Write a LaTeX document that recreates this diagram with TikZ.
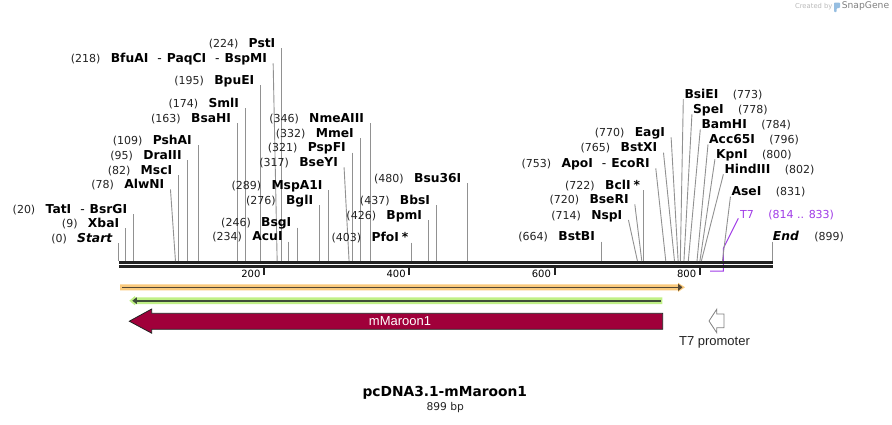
\documentclass[tikz,border=0pt]{standalone}
\usepackage{fontspec}
\setmainfont{DejaVu Sans}
\newfontfamily\featfont{Liberation Sans}
\usepackage{xcolor}
\usetikzlibrary{arrows.meta,positioning}

\definecolor{cutgray}{RGB}{145,145,145}
\definecolor{spine}{RGB}{34,34,34}
\definecolor{bandorange}{RGB}{250,202,125}
\definecolor{bandgreen}{RGB}{192,240,135}
\definecolor{orangeline}{RGB}{82,70,52}
\definecolor{greenline}{RGB}{62,78,56}
\definecolor{mmaroon}{RGB}{160,0,58}
\definecolor{tsevenpurple}{RGB}{160,60,230}
\definecolor{logoblue}{RGB}{150,190,225}

\newcommand\enzsep{\hspace{9pt}{\mdseries -}\hspace{5pt}}
\newcommand\enzstar{\hspace{3pt}*\kern-3pt}

\begin{document}
\begin{tikzpicture}[x=1pt, y=-1pt,
    numlbl/.style={inner sep=0pt, text=spine, font=\fontsize{11}{13}\selectfont},
    enzlbl/.style={inner sep=0pt, text=black, font=\fontsize{12.3}{14}\selectfont\bfseries},
    enz l/.style={anchor=base east, xshift=-6pt},
    enz r/.style={anchor=base west, xshift=1pt},
    num l/.style={base left=10pt of #1},
    num r/.style={base right=14pt of #1},
    cutline/.style={draw=cutgray, line width=0.9pt},
    ticklbl/.style={inner sep=0pt, font=\fontsize{10}{12}\selectfont},
    featlbl/.style={inner sep=0pt, font=\featfont\fontsize{13}{15}\selectfont},
  ]
    \useasboundingbox (0,0) rectangle (892,424);

    % T7 site mark (under the backbone)
    \coordinate (tsL) at (710.1,271);
    \coordinate (tsR) at (723.4,271);
    \coordinate (tsK) at (723.4,248.3);
    \coordinate (tsT) at (738.3,218.3);
    \draw[tsevenpurple, line width=1pt] (tsL) -- (tsR) -- (tsK) -- (tsT);
    \node[numlbl, text=tsevenpurple, anchor=base west] (tslbl) at (740,218) {T7};
    \node[numlbl, text=tsevenpurple, base right=14pt of tslbl] (tsnum) {(814 .. 833)};

    % backbone and ruler
    \draw[spine, line width=2.6pt] (118.8,262.4) -- (772.7,262.4);
    \draw[spine, line width=2.6pt] (118.8,266.2) -- (772.7,266.2);
    \foreach \t in {200,400,600,800} {
      \pgfmathsetmacro\tx{118.8+0.7264*\t}
      \draw[spine, line width=1.8pt] (\tx,266) -- (\tx,274.8);
      \node[ticklbl, anchor=east] (tick\t) at (\tx-3.5,274) {\t};
    }

    % enzyme sites
    \foreach \bp/\dx/\ty/\nm/\sd [count=\i] in {
        0/0/243.3/\textit{Start}/l,
        9/0/228.3/XbaI/l,
        20/0/214/TatI\enzsep BsrGI/l,
        78/-5/189.3/AlwNI/l,
        82/0/175/MscI/l,
        95/0/160/DraIII/l,
        109/0/145/PshAI/l,
        163/0/123.3/BsaHI/l,
        174/0/108.3/SmlI/l,
        195/0/85/BpuEI/l,
        218/-4/63.3/BfuAI\enzsep PaqCI\enzsep BspMI/l,
        224/0/48.3/PstI/l,
        234/0/241.7/AcuI/l,
        246/0/227.7/BsgI/l,
        276/0/205/BglI/l,
        289/0/190/MspA1I/l,
        317/-5/167.3/BseYI/l,
        321/0/152.7/PspFI/l,
        332/0/138.3/MmeI/l,
        346/0/123.3/NmeAIII/l,
        403/0/242.7/PfoI\enzstar/l,
        426/0/220/BpmI/l,
        437/0/205/BbsI/l,
        480/0/183.3/Bsu36I/l,
        664/0/241.7/BstBI/l,
        714/-9/220/NspI/l,
        720/-7/204.3/BseRI/l,
        722/0/190/BclI\enzstar/l,
        753/-10/168.3/ApoI\enzsep EcoRI/l,
        765/-11/152.7/BstXI/l,
        770/-7/137.3/EagI/l,
        773/3/99.3/BsiEI/r,
        778/8/114.3/SpeI/r,
        784/12/129.3/BamHI/r,
        796/11/144.3/Acc65I/r,
        800/15/159.3/KpnI/r,
        802/22/174.3/HindIII/r,
        831/8/196.7/AseI/r} {
      \pgfmathsetmacro\sx{118.8+0.7264*\bp}
      \coordinate (s\i) at (\sx,261);
      \coordinate (t\i) at (\sx+\dx,\ty);
      \draw[cutline] (t\i) -- (s\i);
      \node[enzlbl, enz \sd] (e\i) at (\sx+\dx,\ty-1) {\nm};
      \node[numlbl, num \sd=e\i] (n\i) {(\bp)};
    }
    \coordinate (sEnd) at (772.2,261);
    \coordinate (tEnd) at (772.2,241.7);
    \draw[cutline] (tEnd) -- (sEnd);
    \node[enzlbl, anchor=base west] (eEnd) at (772.7,240.7) {\textit{End}};
    \node[numlbl, base right=15pt of eEnd] (nEnd) {(899)};

    % features
    \fill[bandorange] (120,284.3) -- (678,284.3) -- (678,282.7) -- (685,287.3)
        -- (678,292) -- (678,290.3) -- (120,290.3) -- cycle;
    \draw[orangeline, line width=1.6pt, -{Triangle[length=4.5pt,width=7pt]}]
        (122,287.3) -- (682.5,287.3);
    \fill[bandgreen] (662.3,297.4) -- (135,297.4) -- (135,296) -- (129.3,300.7)
        -- (135,305.4) -- (135,304) -- (662.3,304) -- cycle;
    \draw[greenline, line width=1.6pt, -{Triangle[length=4.5pt,width=6.5pt]}]
        (661,300.7) -- (132.3,300.7);
    \filldraw[fill=mmaroon, draw=spine, line width=0.8pt]
        (662.7,313.3) -- (151.7,313.3) -- (151.7,309) -- (129.3,321.2)
        -- (151.7,333.2) -- (151.7,329.3) -- (662.7,329.3) -- cycle;
    \node[featlbl, text=white] (mmlbl) at (400,321.2) {mMaroon1};
    \filldraw[fill=white, draw=gray, line width=0.8pt]
        (724,314) -- (716.7,314) -- (716.7,309.3) -- (709,321)
        -- (716.7,332.7) -- (716.7,327.7) -- (724,327.7) -- cycle;
    \node[featlbl, text=spine] (tsprom) at (714.5,342) {T7 promoter};

    % title
    \node[inner sep=0pt, text=black, font=\fontsize{13.8}{16}\selectfont\bfseries]
        (title) at (444.8,393.3) {pcDNA3.1-mMaroon1};
    \node[inner sep=0pt, text=spine, font=\fontsize{10.7}{12}\selectfont]
        (size) at (445.3,407.7) {899 bp};

    % credit
    \node[inner sep=0pt, text=gray!55, font=\fontsize{6.8}{8}\selectfont]
        (credit) at (813.8,6.5) {Created by};
    \fill[logoblue, rounded corners=0.8pt] (834,2.5) -- (840,2.5) -- (840,8)
        -- (836.7,8) -- (836.7,12) -- (834,12) -- cycle;
    \node[inner sep=0pt, text=gray, font=\fontsize{9.2}{10}\selectfont]
        (snapgene) at (865.5,6.5) {SnapGene};
\end{tikzpicture}
\end{document}
